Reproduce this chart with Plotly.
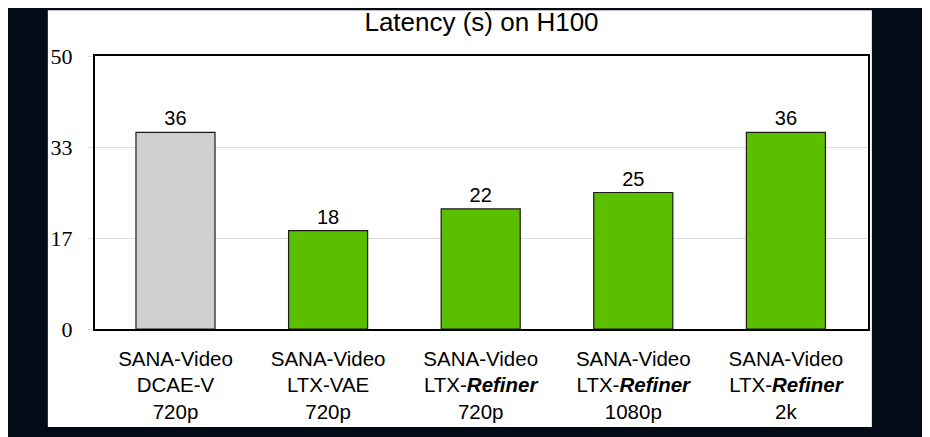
import plotly.graph_objects as go

# Latency data
models = ["SANA-Video<br>DCAE-V<br>720p",
          "SANA-Video<br>LTX-VAE<br>720p",
          "SANA-Video<br>LTX-<b><i>Refiner</i></b><br>720p",
          "SANA-Video<br>LTX-<b><i>Refiner</i></b><br>1080p",
          "SANA-Video<br>LTX-<b><i>Refiner</i></b><br>2k"]
latency = [36, 18, 22, 25, 36]
bar_colors = ["#d0d0d0", "#5bbf00", "#5bbf00", "#5bbf00", "#5bbf00"]
y_ticks = [0, 50 / 3, 100 / 3, 50]
y_tick_labels = ["0", "17", "33", "50"]

fig = go.Figure(go.Bar(
    x=models,
    y=latency,
    marker=dict(color=bar_colors, line=dict(color="#1a1a1a", width=1.2)),
    width=0.518,
    text=[str(v) for v in latency],
    textposition="outside",
    textfont=dict(family="Liberation Sans, Arial", size=20, color="black"),
    cliponaxis=False,
))

# white panel behind the chart
fig.add_shape(type="rect", xref="paper", yref="paper",
              x0=-0.061, x1=1.005, y0=-0.359, y1=1.168,
              fillcolor="white", line_width=0, layer="below")

# margins are pulled in by 8px to make up for the page's body margin
fig.update_layout(
    width=930, height=437,
    margin=dict(l=87, r=70, t=48, b=116),
    paper_bgcolor="#030a18",
    plot_bgcolor="white",
    showlegend=False,
    title=dict(text="Latency (s) on H100", x=0.5, xref="paper", xanchor="center",
               y=0.968, yanchor="middle",
               font=dict(family="Liberation Sans, Arial", size=26, color="black")),
    font=dict(family="Liberation Sans, Arial", color="black"),
)
fig.update_xaxes(showline=True, mirror=True, linecolor="black", linewidth=2,
                 range=[-0.5275, 4.538],
                 tickfont=dict(family="Liberation Sans, Arial", size=20.5, color="black"),
                 ticklabelstandoff=10,
                 showgrid=False)
fig.update_yaxes(range=[0, 50], tickvals=y_ticks, ticktext=y_tick_labels,
                 showline=True, mirror=True, linecolor="black", linewidth=2,
                 gridcolor="#dddddd", gridwidth=1, zeroline=False,
                 ticks="outside", ticklen=5, tickcolor="#dddddd",
                 ticklabelstandoff=11,
                 tickfont=dict(family="Liberation Serif, Times New Roman", size=22, color="black"))

fig.write_html("out.html")
